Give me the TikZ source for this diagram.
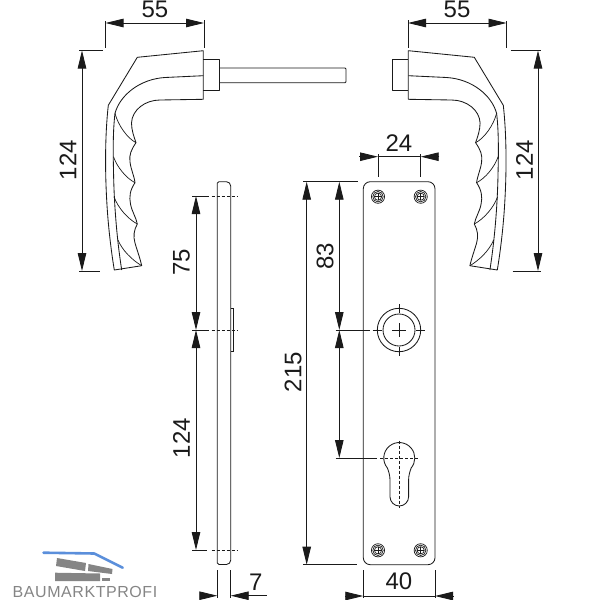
\documentclass[tikz,border=0pt]{standalone}
\usepackage{fontspec}
\setmainfont{Liberation Sans}
\newfontfamily\logofont[LetterSpace=3.5]{Liberation Sans}
\usetikzlibrary{arrows.meta,positioning}

\definecolor{inkline}{HTML}{1A1A1A}
\definecolor{logoblue}{HTML}{5B8FDB}
\definecolor{logogrey}{HTML}{858585}

\tikzset{
    outline/.style={draw=inkline, line width=0.85pt, line join=round},
    thinline/.style={draw=inkline, line width=0.7pt},
    dimline/.style={draw=inkline, line width=0.85pt},
    arrowboth/.style={dimline, {Triangle[length=18pt,width=8.5pt]}-{Triangle[length=18pt,width=8.5pt]}},
    arrowend/.style={dimline, -{Triangle[length=18pt,width=8.5pt]}},
    centreline/.style={thinline, dash pattern=on 3pt off 2pt},
    measure/.style={inner sep=0pt, text=inkline, font=\fontsize{24}{24}\selectfont},
    handlebody/.pic={
        % outer contour
        \path[outline] (203.3,50.7) -- (137.3,57.3) -- (108.3,105.3)
            .. controls (105,135) and (105,170) .. (106.7,200)
            .. controls (108,225) and (111,250) .. (114.3,270) -- (141.7,265.7)
            .. controls (140,258) and (137,250) .. (135,243)
            .. controls (133,236) and (134,230) .. (137.3,224)
            .. controls (136,217) and (132,212) .. (130.5,204)
            .. controls (129,197) and (130,190) .. (135,182.7)
            .. controls (134,175) and (131,170) .. (130,162)
            .. controls (129,155) and (131,150) .. (136,142.7)
            .. controls (134,137) and (131.5,130) .. (131.5,123)
            .. controls (132,110) and (145,100) .. (160,100) -- (203.3,99.3) -- cycle;
        % inner line and grooves
        \path[outline] (203.3,75.7) -- (165,77.5)
            .. controls (140,79) and (120,95) .. (115,113.3)
            .. controls (113,130) and (113,150) .. (113.5,170)
            .. controls (114,205) and (117,240) .. (121.7,270);
        \path[thinline] (115,113.3) .. controls (118,125) and (127,138) .. (136,142.7);
        \path[thinline] (113.5,156.7) .. controls (117,167) and (126,178) .. (135,182.7);
        \path[thinline] (114,196.7) .. controls (118,208) and (128,219) .. (137.3,224);
        \path[thinline] (118,240) .. controls (122,250) and (132,260) .. (141.7,265.7);
        % collar
        \path[outline] (203.3,59.3) -- (219.3,59.3) -- (219.3,90.7) -- (203.3,90.7);
    },
    screwhead/.pic={
        \path[thinline] (0,0) circle (6.6pt);
        \path[thinline] (0,0) circle (5.2pt);
        \path[thinline] (0,0) circle (3.6pt);
        \path[thinline] (-3.6,0) -- (3.6,0) (0,-3.6) -- (0,3.6);
    }
}

\begin{document}
\begin{tikzpicture}[x=1pt,y=-1pt]
    \useasboundingbox (0,0) rectangle (600,600);

    % handles
    \pic (lefthandle) at (0,0) {handlebody};
    \pic[xscale=-1] (righthandle) at (611.6,0) {handlebody};
    \draw[outline] (219.3,68) -- (345,68) -- (346,69) -- (346,81.7) -- (345,82.7) -- (219.3,82.7);

    % handle dimensions
    \coordinate (lefttop a) at (105.5,23);
    \coordinate (lefttop b) at (204,23);
    \draw[arrowboth] (lefttop a) -- (lefttop b);
    \draw[dimline] (105.5,21) -- (105.5,48) (204,20) -- (204,48);
    \node[measure] (lefttop text) at (155,9.5) {55};
    \coordinate (leftside a) at (82,50.5);
    \coordinate (leftside b) at (82,271);
    \draw[arrowboth] (leftside a) -- (leftside b);
    \draw[dimline] (79,50.5) -- (103,50.5) (79,271) -- (100,271);
    \node[measure, rotate=90] (leftside text) at (68,160) {124};

    \coordinate (righttop a) at (408,23);
    \coordinate (righttop b) at (506.5,23);
    \draw[arrowboth] (righttop a) -- (righttop b);
    \draw[dimline] (408,20) -- (408,48) (506.5,21) -- (506.5,48);
    \node[measure] (righttop text) at (457,9.5) {55};
    \coordinate (rightside a) at (538,50.5);
    \coordinate (rightside b) at (538,271);
    \draw[arrowboth] (rightside a) -- (rightside b);
    \draw[dimline] (510.5,50.5) -- (541,50.5) (512.5,271) -- (541,271);
    \node[measure, rotate=90] (rightside text) at (524.5,160) {124};

    % plate seen from the side
    \draw[outline] (230.7,186) arc[start angle=0,end angle=90,radius=4.3pt]
        -- (219,181.7) -- (217.3,183) -- (217.3,563) -- (219,564.5) -- (226.4,564.5)
        arc[start angle=-90,end angle=0,radius=4.3pt] -- cycle;
    \draw[thinline] (230.7,308) -- (233.3,308) -- (233.3,351.7) -- (230.7,351.7);

    \coordinate (sidetop) at (196,196);
    \coordinate (sidemid) at (196,330);
    \coordinate (sidelow) at (196,550);
    \draw[arrowboth] (sidetop) -- (sidemid);
    \draw[arrowboth] (sidemid) -- (sidelow);
    \draw[dimline] (192.3,196) -- (209,196) (192.3,330) -- (209,330) (192.3,550) -- (207,550);
    \draw[centreline] (211.7,196) -- (238.3,196);
    \draw[centreline] (211.7,330) -- (238.3,330);
    \draw[centreline] (211.7,550) -- (238.3,550);
    \node[measure, rotate=90] (upper text) at (181.5,262) {75};
    \node[measure, rotate=90] (lower text) at (181.5,438) {124};

    \coordinate (thick a) at (217.3,595.7);
    \coordinate (thick b) at (230.7,595.7);
    \draw[arrowend] (200,595.7) -- (thick a);
    \draw[arrowend] (266.7,595.7) -- (thick b);
    \draw[dimline] (217.3,570) -- (217.3,598) (230.7,570) -- (230.7,598);
    \node[measure] (thick text) at (255.7,582.5) {7};

    % plate seen from the front
    \draw[outline, rounded corners=7pt] (363.3,181.7) rectangle (435,564.7);
    \pic (screw nw) at (378,196.7) {screwhead};
    \pic (screw ne) at (420.7,196.7) {screwhead};
    \pic (screw sw) at (378,550.3) {screwhead};
    \pic (screw se) at (420.7,550.3) {screwhead};

    % rose and spindle hole
    \coordinate (rosecentre) at (399,330);
    \draw[outline] (rosecentre) circle (21.7pt);
    \draw[outline] (rosecentre) circle (16pt);
    \draw[thinline] (392.3,330) -- (405.7,330) (399,323.3) -- (399,336.7);
    \draw[thinline] (372.7,330) -- (382,330) (416,330) -- (425,330);
    \draw[thinline] (399,304) -- (399,313) (399,347) -- (399,356);

    % cylinder hole
    \coordinate (cylcentre) at (399.3,458);
    \draw[outline] (390,480)
        .. controls (390,475) and (388.5,471) .. (387.4,468)
        arc[start angle=220,end angle=-40,radius=15.5pt]
        .. controls (410.1,471) and (408.6,475) .. (408.6,480)
        -- (408.6,496.7) arc[start angle=0,end angle=-180,radius=9.3pt] -- cycle;
    \draw[centreline] (380,458) -- (418,458);
    \draw[centreline] (399.3,440.7) -- (399.3,508.3);

    % plate dimensions
    \coordinate (holes a) at (378,156.7);
    \coordinate (holes b) at (420.7,156.7);
    \draw[arrowend] (359.3,156.7) -- (holes a);
    \draw[arrowend] (439.3,156.7) -- (holes b);
    \draw[dimline] (holes a) -- (holes b);
    \draw[dimline] (378,154) -- (378,177) (420.7,154) -- (420.7,177);
    \node[measure] (holes text) at (399,143.5) {24};

    \coordinate (width a) at (363.3,596);
    \coordinate (width b) at (435,596);
    \draw[arrowend] (345,596) -- (width a);
    \draw[arrowend] (453,596) -- (width b);
    \draw[dimline] (width a) -- (width b);
    \draw[dimline] (363.3,570) -- (363.3,598) (435,570) -- (435,598);
    \node[measure] (width text) at (399,581.7) {40};

    \coordinate (height a) at (306.7,181.7);
    \coordinate (height b) at (306.7,564.7);
    \draw[arrowboth] (height a) -- (height b);
    \draw[dimline] (303,181.7) -- (357.7,181.7) (303,564.7) -- (357,564.7);
    \node[measure, rotate=90] (height text) at (293,372) {215};

    \coordinate (spacing top) at (339.3,181.7);
    \coordinate (spacing mid) at (339.3,330);
    \coordinate (spacing low) at (339.3,458);
    \draw[arrowboth] (spacing top) -- (spacing mid);
    \draw[arrowboth] (spacing mid) -- (spacing low);
    \draw[dimline] (335.5,330) -- (370,330) (335.5,458) -- (377,458);
    \node[measure, rotate=90] (spacing text) at (325,256) {83};

    % logo
    \draw[logoblue, line width=2.6pt, line cap=round, line join=round] (43.5,552.7) -- (94.3,553.5) -- (122.7,567.7);
    \fill[logogrey] (57,558) -- (86,563) -- (85,571) -- (56,566) -- cycle;
    \fill[logogrey] (88.5,564) -- (112.5,569) -- (112,574) -- (88,571) -- cycle;
    \fill[logogrey] (55,572.7) -- (100,573.5) -- (100,581) -- (55,581) -- cycle;
    \fill[logogrey] (102,578) -- (110,578) -- (110,581) -- (102,581) -- cycle;
    \node[inner sep=0pt, text=logogrey, font=\logofont\fontsize{16}{16}\selectfont] (logo text) at (85,591.5) {BAUMARKTPROFI};
\end{tikzpicture}
\end{document}
